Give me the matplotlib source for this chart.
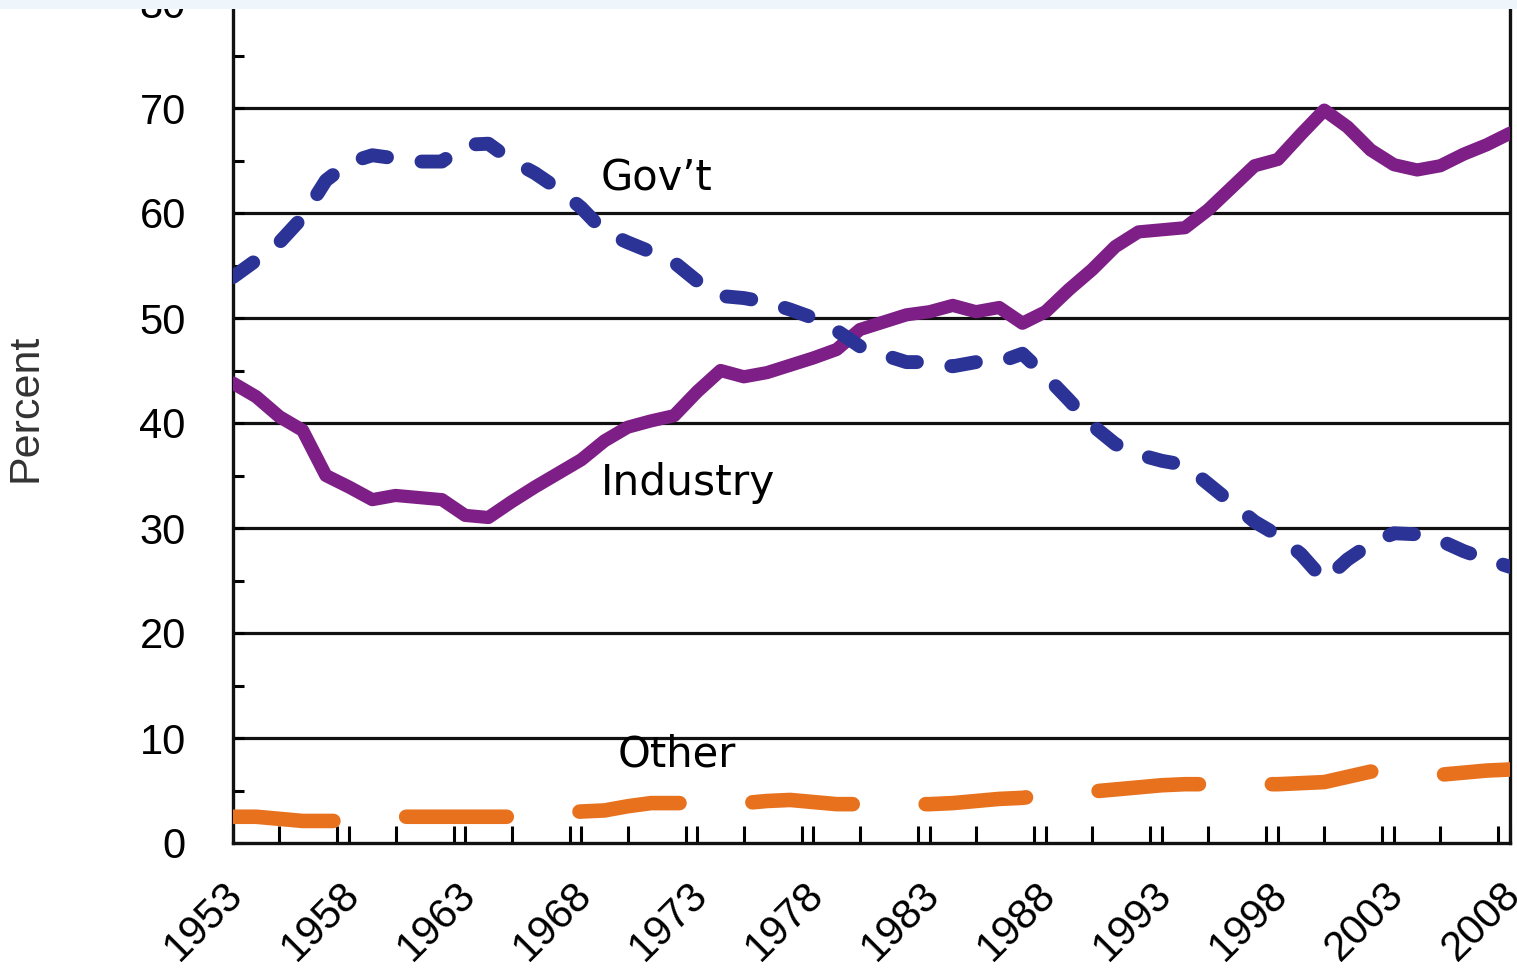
import matplotlib
matplotlib.use('Agg')
import matplotlib.pyplot as plt
from matplotlib.patches import Rectangle
from matplotlib.ticker import MultipleLocator
from matplotlib.transforms import ScaledTranslation
import numpy as np

# R&D funding shares by source, 1953-2008 (percent)
years = np.arange(1953, 2009)

industry = [43.8, 42.5, 40.6, 39.3, 35.0, 33.9, 32.7, 33.1, 32.9, 32.7,
            31.2, 31.0, 32.5, 33.9, 35.2, 36.5, 38.3, 39.6, 40.2, 40.7,
            43.0, 45.0, 44.4, 44.8, 45.5, 46.2, 47.0, 48.9, 49.6, 50.3,
            50.6, 51.2, 50.6, 51.0, 49.5, 50.6, 52.7, 54.6, 56.8, 58.2,
            58.4, 58.6, 60.3, 62.4, 64.5, 65.1, 67.5, 69.8, 68.2, 66.0,
            64.6, 64.1, 64.5, 65.6, 66.5, 67.6]

govt = [53.9, 55.5, 57.2, 59.6, 63.1, 64.8, 65.5, 65.2, 64.9, 64.9,
        66.5, 66.6, 65.0, 63.8, 62.3, 60.5, 58.2, 57.2, 56.3, 55.3,
        53.5, 52.1, 51.9, 51.5, 50.8, 50.0, 48.8, 47.3, 46.5, 45.8,
        45.8, 45.4, 45.8, 45.8, 46.6, 44.5, 42.2, 39.8, 38.0, 37.0,
        36.4, 36.0, 34.2, 32.4, 30.6, 29.3, 27.5, 25.0, 27.0, 28.5,
        29.5, 29.4, 28.8, 27.8, 27.0, 26.3]

other = [2.5, 2.5, 2.3, 2.1, 2.1, 2.1, 2.3, 2.5, 2.5, 2.5,
         2.5, 2.5, 2.5, 2.6, 2.8, 3.0, 3.1, 3.5, 3.8, 3.8,
         3.8, 3.8, 3.8, 4.0, 4.1, 3.9, 3.7, 3.7, 3.7, 3.7,
         3.7, 3.8, 4.0, 4.2, 4.3, 4.6, 4.8, 4.9, 5.1, 5.3,
         5.5, 5.6, 5.6, 5.6, 5.6, 5.6, 5.7, 5.8, 6.3, 6.8,
         6.8, 6.6, 6.5, 6.7, 6.9, 7.0]

label_years = list(range(1953, 2009, 5))

plt.rcParams['font.family'] = ['Liberation Sans', 'DejaVu Sans']

fig = plt.figure(figsize=(15.17, 9.69), dpi=100)
fig.patch.set_facecolor('white')
ax = fig.add_axes([233 / 1517, 1 - 843 / 969, (1510 - 233) / 1517, (843 - 3) / 969])

# horizontal grid at every 10
for v in range(10, 81, 10):
    ax.axhline(v, color='#111111', linewidth=2.3, zorder=1)

ax.plot(years, industry, color='#7D1F86', linewidth=9.5,
        solid_capstyle='round', solid_joinstyle='round', zorder=3)
ax.plot(years, govt, color='#2B3397', linewidth=10,
        dashes=(1.8, 2.5), dash_capstyle='round', zorder=4)
ax.plot(years, other, color='#E8711E', linewidth=10.5,
        dashes=(6.9, 5.0), dash_capstyle='round', zorder=4)

ax.set_xlim(1953, 2008)
ax.set_ylim(0, 80)

ax.set_xticks(label_years)
ax.xaxis.set_minor_locator(MultipleLocator(2.5))
ax.set_xticklabels([str(y) for y in label_years], rotation=45,
                   ha='right', rotation_mode='anchor', fontsize=30)
ax.set_yticks(range(0, 81, 10))
ax.yaxis.set_minor_locator(MultipleLocator(5))
ax.tick_params(axis='y', which='both', direction='in', length=8, width=2.2,
               labelsize=30, pad=34)
ax.tick_params(axis='x', which='both', direction='in', length=12, width=2.2,
               pad=16)

# nudge the slanted year labels down and to the left
shift = ScaledTranslation(-0.10, -0.09, fig.dpi_scale_trans)
for lbl in ax.get_xticklabels():
    lbl.set_transform(lbl.get_transform() + shift)

for side in ['left', 'bottom', 'right']:
    ax.spines[side].set_linewidth(2.4)
    ax.spines[side].set_color('#111111')
ax.spines['top'].set_visible(False)

txt_font = ['DejaVu Sans']
ax.text(1968.85, 63.3, 'Gov\u2019t', fontsize=30, family=txt_font,
        ha='left', va='center', zorder=5)
ax.text(1968.85, 34.3, 'Industry', fontsize=30.5, family=txt_font,
        ha='left', va='center', zorder=5)
ax.text(1969.55, 8.4, 'Other', fontsize=30, family=txt_font,
        ha='left', va='center', zorder=5)

fig.text(25 / 1517, 1 - 408 / 969, 'Percent', rotation=90, fontsize=31,
         ha='center', va='center', color='#333333')

# pale strip along the cropped top edge
fig.add_artist(Rectangle((0, 1 - 9 / 969), 1, 9 / 969, transform=fig.transFigure,
                         facecolor='#eef5fb', edgecolor='none', zorder=10))

fig.savefig('out.png', dpi=100, facecolor='white')
